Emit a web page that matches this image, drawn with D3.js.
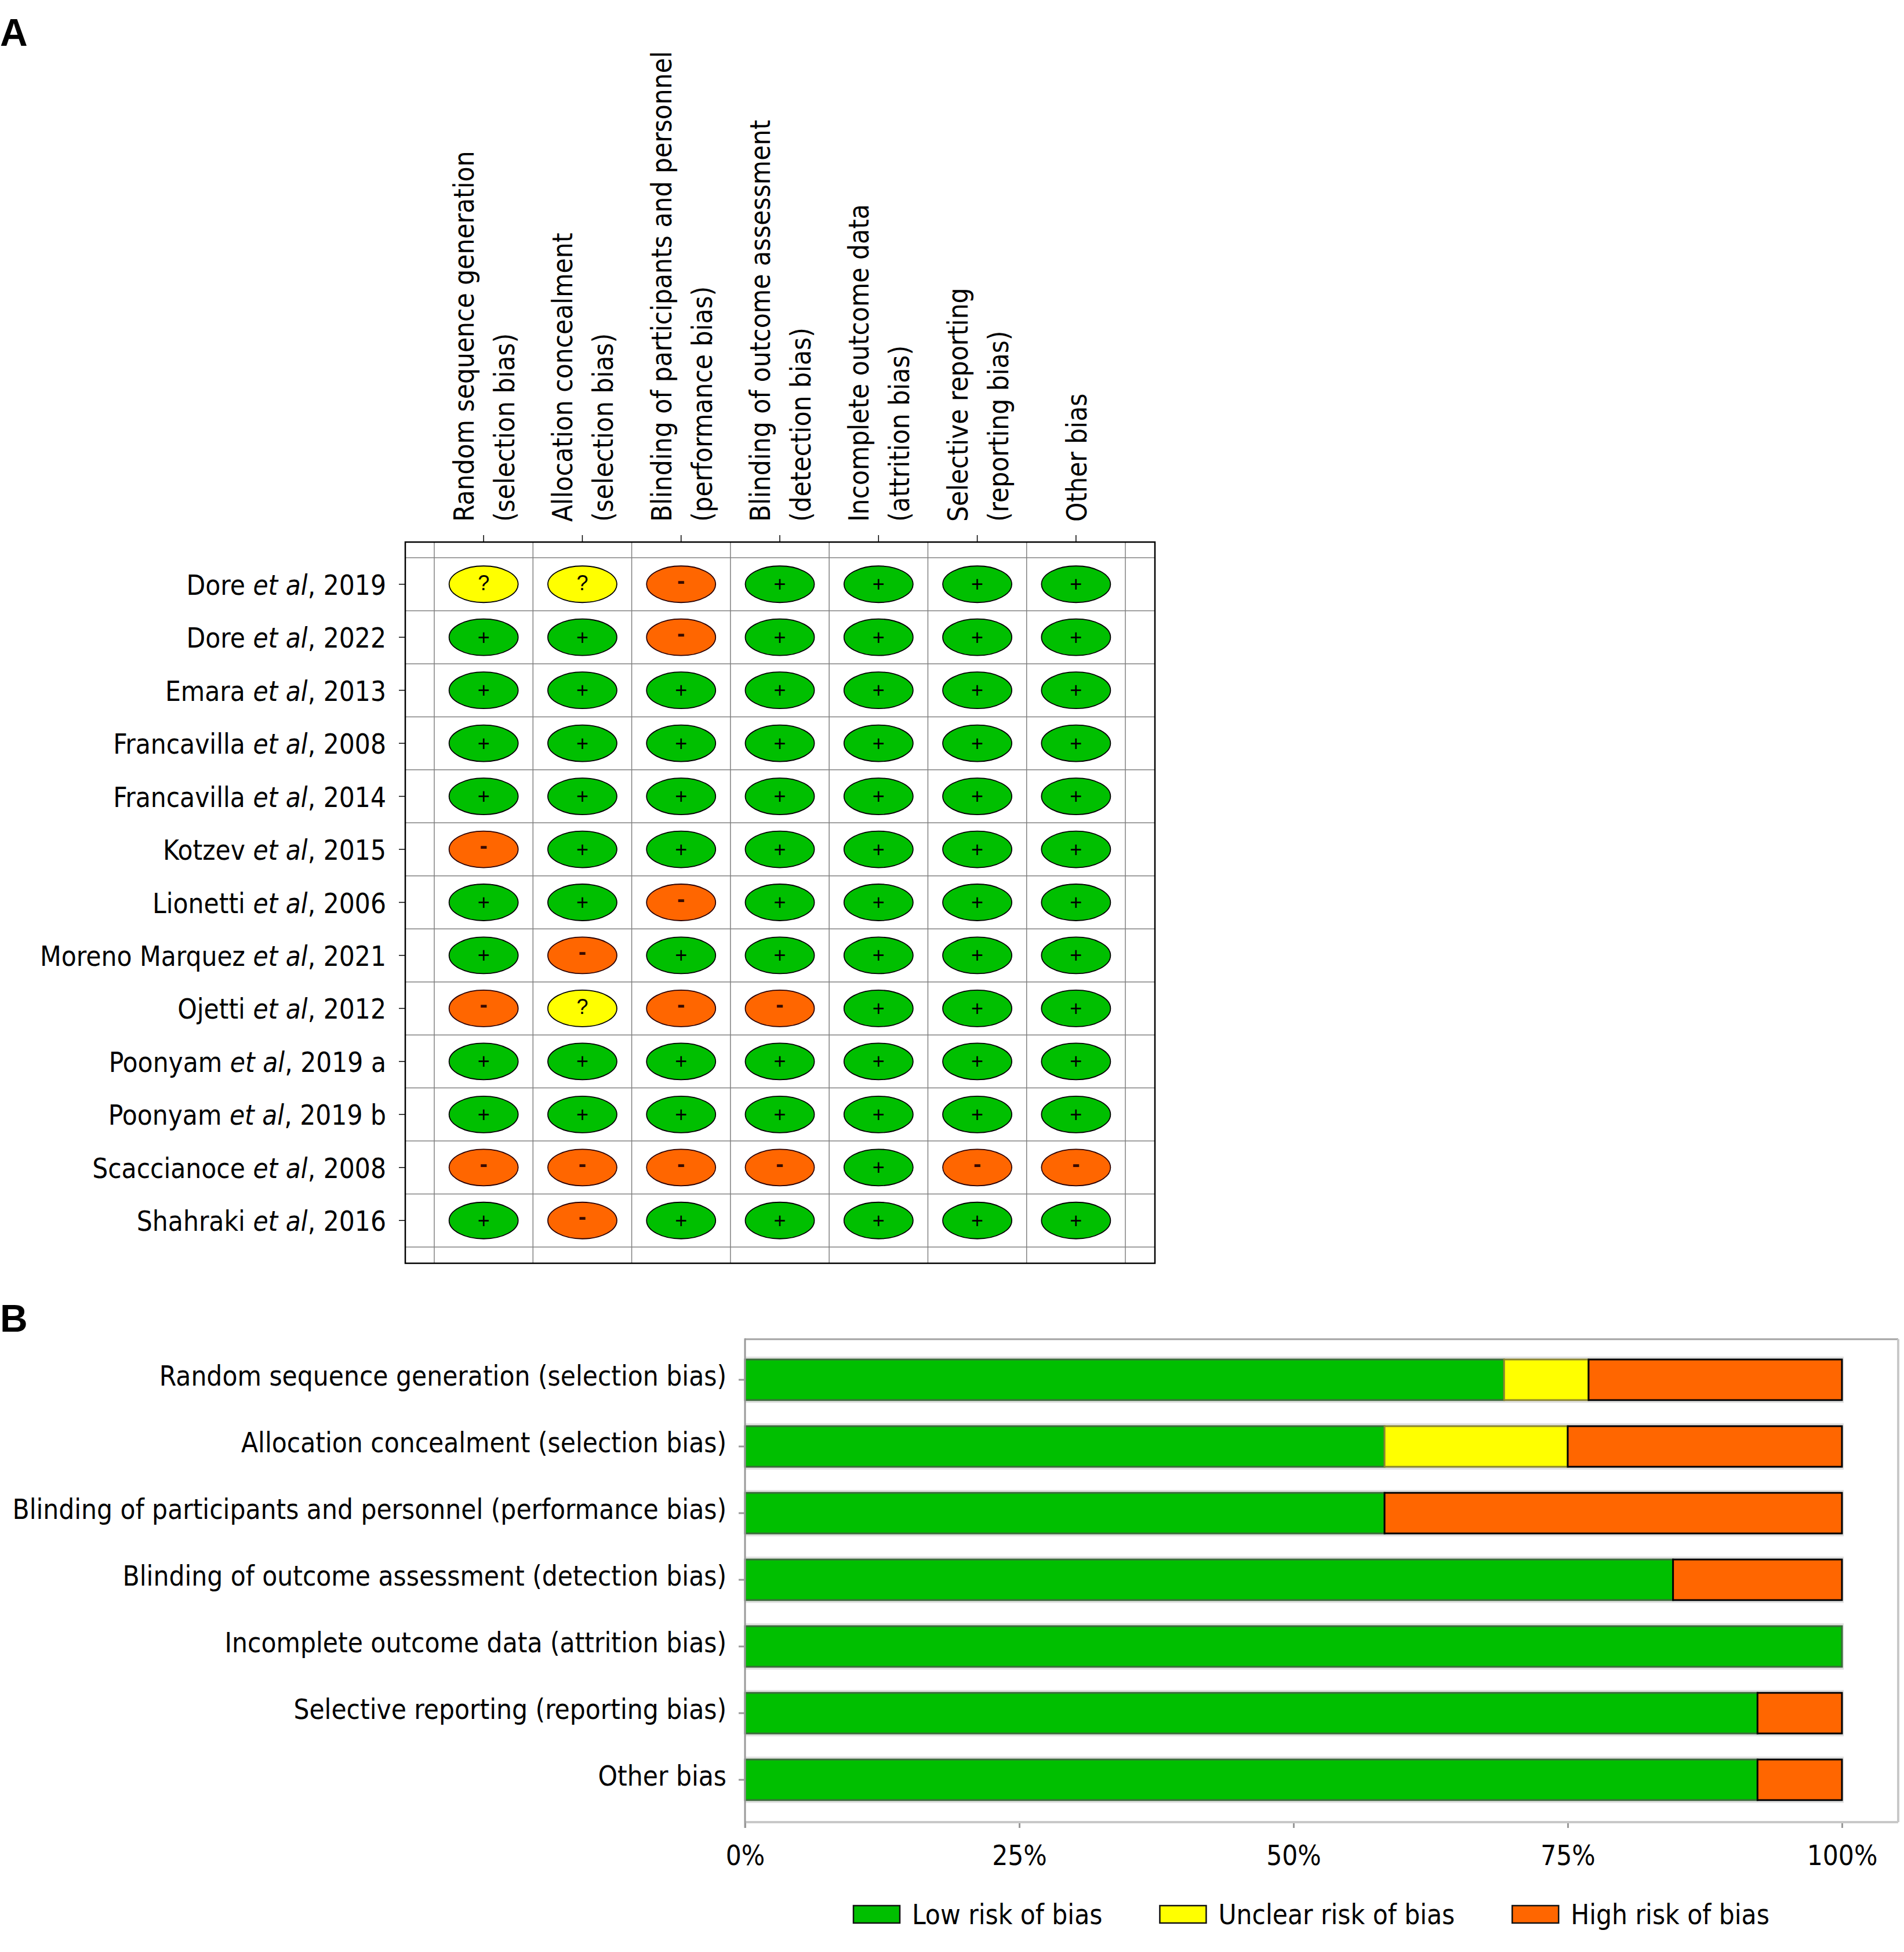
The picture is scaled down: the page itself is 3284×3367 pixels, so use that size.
<!DOCTYPE html>
<html>
<head>
<meta charset="utf-8">
<script src="https://cdnjs.cloudflare.com/ajax/libs/d3/7.8.5/d3.min.js"></script>
<style>
	body { margin: 0; background: #fff; }
	svg text { font-family: Tahoma, "DejaVu Sans Condensed", "Liberation Sans", Arial, sans-serif; }
</style>
</head>
<body>
<svg id="svg_chart"></svg>
<script>
// ====================================================
// data
var study_authors = ["Dore", "Dore", "Emara", "Francavilla", "Francavilla", "Kotzev", "Lionetti",
	"Moreno Marquez", "Ojetti", "Poonyam", "Poonyam", "Scaccianoce", "Shahraki"];
var study_years = ["2019", "2022", "2013", "2008", "2014", "2015", "2006",
	"2021", "2012", "2019 a", "2019 b", "2008", "2016"];

var domains = [
	"Random sequence generation (selection bias)",
	"Allocation concealment (selection bias)",
	"Blinding of participants and personnel (performance bias)",
	"Blinding of outcome assessment (detection bias)",
	"Incomplete outcome data (attrition bias)",
	"Selective reporting (reporting bias)",
	"Other bias"
];

// one string per study, one character per domain: + low, ? unclear, - high
var judgements = [
	"??-++++",
	"++-++++",
	"+++++++",
	"+++++++",
	"+++++++",
	"-++++++",
	"++-++++",
	"+-+++++",
	"-?--+++",
	"+++++++",
	"+++++++",
	"----+--",
	"+-+++++"
];

// panel B percentages per domain
var low_pct     = [69.2, 58.3, 58.3, 84.6, 100, 92.3, 92.3];
var unclear_pct = [ 7.7, 16.7,  0,    0,    0,   0,    0  ];
var high_pct    = [23.1, 25.0, 41.7, 15.4,  0,   7.7,  7.7];

var risk_keys   = ["low", "unclear", "high"];
var risk_labels = ["Low risk of bias", "Unclear risk of bias", "High risk of bias"];
var risk_colors = ["#00bf00", "#ffff00", "#ff6600"];
var risk_edges  = ["#3b6b3b", "#8a8630", "#000000"];
var symbol_to_key = {"+": "low", "?": "unclear", "-": "high"};

var tick_values = [0, 25, 50, 75, 100];
var tick_labels = ["0%", "25%", "50%", "75%", "100%"];

// ====================================================
var width = 3284, height = 3367;
var font_size = 47.3;

var svg = d3.select("svg#svg_chart")
	.attr("width", width)
	.attr("height", height);

var color = d3.scaleOrdinal().domain(risk_keys).range(risk_colors);
var edge = d3.scaleOrdinal().domain(risk_keys).range(risk_edges);

// panel letters
svg.append("text").attr("x", 0).attr("y", 79)
	.attr("font-size", 66).attr("font-weight", "bold")
	.style("font-family", "'Liberation Sans', Arial, sans-serif")
	.text("A");
svg.append("text").attr("x", 0).attr("y", 2297)
	.attr("font-size", 66).attr("font-weight", "bold")
	.style("font-family", "'Liberation Sans', Arial, sans-serif")
	.text("B");

// ====================================================
// panel A -- the traffic light grid
var box = {left: 699, right: 1992, top: 935, bottom: 2179};

var x_col = d3.scaleBand()
	.domain(d3.range(domains.length))
	.range([749, 1941]);

var y_row = d3.scaleBand()
	.domain(d3.range(study_authors.length))
	.range([962, 2151]);

var col_c = function(j) { return x_col(j) + x_col.bandwidth() / 2; };
var row_c = function(i) { return y_row(i) + y_row.bandwidth() / 2; };

var grid = svg.append("g").attr("class", "grid");

var v_lines = x_col.domain().map(function(j) { return x_col(j); }).concat([x_col.range()[1]]);
var h_lines = y_row.domain().map(function(i) { return y_row(i); }).concat([y_row.range()[1]]);

grid.selectAll("line.v")
	.data(v_lines)
	.enter().append("line")
	.attr("class", "v")
	.attr("x1", function(d) { return d; }).attr("x2", function(d) { return d; })
	.attr("y1", box.top).attr("y2", box.bottom)
	.attr("stroke", "#808080").attr("stroke-width", 1.5);

grid.selectAll("line.h")
	.data(h_lines)
	.enter().append("line")
	.attr("class", "h")
	.attr("y1", function(d) { return d; }).attr("y2", function(d) { return d; })
	.attr("x1", box.left).attr("x2", box.right)
	.attr("stroke", "#808080").attr("stroke-width", 1.5);

grid.append("rect")
	.attr("x", box.left).attr("y", box.top)
	.attr("width", box.right - box.left).attr("height", box.bottom - box.top)
	.attr("fill", "none").attr("stroke", "#000").attr("stroke-width", 2.5);

// ticks on top of the box and left of the box
grid.selectAll("line.tick_top")
	.data(x_col.domain())
	.enter().append("line")
	.attr("x1", col_c).attr("x2", col_c)
	.attr("y1", box.top - 12).attr("y2", box.top)
	.attr("stroke", "#000").attr("stroke-width", 1.5);

grid.selectAll("line.tick_left")
	.data(y_row.domain())
	.enter().append("line")
	.attr("y1", row_c).attr("y2", row_c)
	.attr("x1", box.left - 11).attr("x2", box.left)
	.attr("stroke", "#000").attr("stroke-width", 1.5);

// column headers, rotated, split before the bracket
var header = grid.selectAll("g.header")
	.data(domains)
	.enter().append("g")
	.attr("class", "header")
	.attr("transform", function(d, j) { return "translate(" + col_c(j) + ",900) rotate(-90)"; });

header.each(function(d) {
	var k = d.indexOf(" (");
	var lines = k < 0 ? [d] : [d.slice(0, k), d.slice(k + 1)];
	var n = lines.length;
	d3.select(this).selectAll("text")
		.data(lines)
		.enter().append("text")
		.attr("x", 0)
		.attr("y", function(t, i) { return 18 + (i - (n - 1) / 2) * 70; })
		.attr("font-size", font_size)
		.text(function(t) { return t; });
});

// study labels with italic et al
var labels = grid.selectAll("text.study")
	.data(study_authors)
	.enter().append("text")
	.attr("class", "study")
	.attr("x", 666)
	.attr("y", function(d, i) { return row_c(i) + 18; })
	.attr("text-anchor", "end")
	.attr("font-size", font_size);
labels.append("tspan").text(function(d) { return d + " "; });
labels.append("tspan").attr("font-style", "italic").text("et al");
labels.append("tspan").text(function(d, i) { return ", " + study_years[i]; });

// the cells
var cells = [];
judgements.forEach(function(row, i) {
	row.split("").forEach(function(s, j) {
		cells.push({row: i, col: j, symbol: s, key: symbol_to_key[s]});
	});
});

var cell = grid.selectAll("g.cell")
	.data(cells)
	.enter().append("g")
	.attr("class", "cell")
	.attr("transform", function(d) { return "translate(" + col_c(d.col) + "," + row_c(d.row) + ")"; });

cell.append("ellipse")
	.attr("rx", 59.5).attr("ry", 31.5)
	.attr("fill", function(d) { return color(d.key); })
	.attr("stroke", function(d) { return d.key == "high" ? "#2a0000" : "#000"; })
	.attr("stroke-width", 1.8);

cell.append("text")
	.attr("text-anchor", "middle")
	.attr("font-size", function(d) { return d.symbol == "-" ? 40 : 36; })
	.attr("font-weight", function(d) { return d.symbol == "-" ? "bold" : "normal"; })
	.attr("fill", function(d) { return d.symbol == "-" ? "#3a0a00" : "#000"; })
	.style("font-family", "'Liberation Sans', Arial, sans-serif")
	.attr("y", function(d) { return d.symbol == "-" ? 7 : (d.symbol == "?" ? 10 : 12.5); })
	.text(function(d) { return d.symbol; });

// ====================================================
// panel B -- summary bars
var frame = {left: 1285, right: 3274, top: 2310, bottom: 3143};

var x_pct = d3.scaleLinear()
	.domain([0, 100])
	.range([1285, 3177]);

var y_dom = d3.scaleBand()
	.domain(d3.range(domains.length))
	.range([2322.5, 3127.5])
	.paddingInner(0.391)
	.paddingOuter(0.1955);

var table = domains.map(function(d, i) {
	return {domain: d, low: low_pct[i], unclear: unclear_pct[i], high: high_pct[i]};
});
var stacked = d3.stack().keys(risk_keys)(table);

var summary = svg.append("g").attr("class", "summary");

// frame: dark left and top, light right and bottom
summary.append("line")
	.attr("x1", frame.left).attr("x2", frame.right)
	.attr("y1", frame.top).attr("y2", frame.top)
	.attr("stroke", "#a3a3a3").attr("stroke-width", 3);
summary.append("line")
	.attr("x1", frame.right).attr("x2", frame.right)
	.attr("y1", frame.top).attr("y2", frame.bottom)
	.attr("stroke", "#c8c8c8").attr("stroke-width", 4);
summary.append("line")
	.attr("x1", frame.left).attr("x2", frame.right)
	.attr("y1", frame.bottom).attr("y2", frame.bottom)
	.attr("stroke", "#c8c8c8").attr("stroke-width", 4);

// soft shadow behind every bar
summary.selectAll("rect.shadow")
	.data(table)
	.enter().append("rect")
	.attr("class", "shadow")
	.attr("x", x_pct(0))
	.attr("width", x_pct(100) - x_pct(0) + 3)
	.attr("y", function(d, i) { return y_dom(i) - 5; })
	.attr("height", y_dom.bandwidth() + 10)
	.attr("fill", "#e2e2e2");

summary.selectAll("g.layer")
	.data(stacked)
	.enter().append("g")
	.attr("class", "layer")
	.attr("fill", function(d) { return color(d.key); })
	.attr("stroke", function(d) { return edge(d.key); })
	.selectAll("rect")
	.data(function(d) { return d.filter(function(s) { return s[1] - s[0] > 0; }); })
	.enter().append("rect")
	.attr("x", function(d) { return x_pct(d[0]); })
	.attr("width", function(d) { return x_pct(d[1]) - x_pct(d[0]); })
	.attr("y", function(d) { return y_dom(table.indexOf(d.data)); })
	.attr("height", y_dom.bandwidth())
	.attr("stroke-width", 3);

// left axis with category labels
var y_axis = summary.append("g")
	.attr("transform", "translate(" + frame.left + ",0)")
	.call(d3.axisLeft(y_dom)
		.tickSize(11)
		.tickSizeOuter(0)
		.tickPadding(21)
		.tickFormat(function(i) { return domains[i]; }));
y_axis.select(".domain").remove();
y_axis.selectAll(".tick line").attr("stroke", "#999").attr("stroke-width", 3);
y_axis.selectAll(".tick text")
	.attr("font-size", font_size)
	.attr("fill", "#000")
	.attr("dy", "0.22em")
	.style("font-family", null);

summary.append("line")
	.attr("x1", frame.left).attr("x2", frame.left)
	.attr("y1", frame.top - 1.5).attr("y2", frame.bottom + 10)
	.attr("stroke", "#999").attr("stroke-width", 3);

// bottom axis
var x_axis = summary.append("g")
	.attr("transform", "translate(0," + (frame.bottom + 2) + ")")
	.call(d3.axisBottom(x_pct)
		.tickValues(tick_values)
		.tickSize(8)
		.tickSizeOuter(0)
		.tickPadding(30)
		.tickFormat(function(d, i) { return tick_labels[i]; }));
x_axis.select(".domain").remove();
x_axis.selectAll(".tick line").attr("stroke", "#999").attr("stroke-width", 3);
x_axis.selectAll(".tick text")
	.attr("font-size", font_size)
	.attr("fill", "#000")
	.style("font-family", null);

// legend
var legend = svg.append("g").attr("class", "legend");
var lx = 1472;
risk_labels.forEach(function(label, i) {
	legend.append("rect")
		.attr("x", lx).attr("y", 3287)
		.attr("width", 80).attr("height", 30)
		.attr("fill", risk_colors[i])
		.attr("stroke", "#111").attr("stroke-width", 2.5);
	var t = legend.append("text")
		.attr("x", lx + 101).attr("y", 3319)
		.attr("font-size", font_size)
		.text(label);
	lx = lx + 101 + t.node().getComputedTextLength() + 99;
});
</script>
</body>
</html>
